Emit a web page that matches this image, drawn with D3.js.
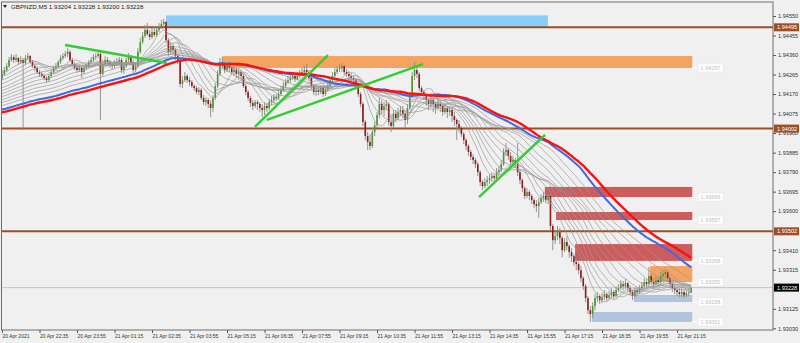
<!DOCTYPE html>
<html>
<head>
<meta charset="utf-8">
<script src="https://cdn.jsdelivr.net/npm/d3@7"></script>
<style>
  body { margin: 0; background: #f0f0f0; }
  svg { display: block; font-family: "Liberation Sans", Arial, sans-serif; }
</style>
</head>
<body>
<svg width="800" height="343"></svg>
<script>
const titleText = "GBPNZD,M5  1.93204 1.93228 1.93200 1.93228";

// M5 bars, open = previous close; each row is [high, low, close]
const firstOpen = 1.94248;
const candles = [
  [1.94287,1.94238,1.94268],[1.94302,1.94258,1.94287],[1.94321,1.94277,1.94306],[1.94350,1.94297,1.94336],
  [1.94365,1.94326,1.94350],[1.94360,1.94321,1.94336],[1.94365,1.94326,1.94346],[1.94350,1.94311,1.94326],
  [1.94355,1.94316,1.94336],[1.94346,1.93995,1.94321],[1.94360,1.94311,1.94346],[1.94370,1.94336,1.94355],
  [1.94360,1.94316,1.94326],[1.94336,1.94297,1.94306],[1.94321,1.94282,1.94297],[1.94306,1.94268,1.94277],
  [1.94287,1.94253,1.94268],[1.94277,1.94248,1.94258],[1.94268,1.94238,1.94248],[1.94258,1.94224,1.94238],
  [1.94268,1.94229,1.94258],[1.94287,1.94248,1.94277],[1.94306,1.94268,1.94297],[1.94321,1.94287,1.94306],
  [1.94336,1.94297,1.94326],[1.94360,1.94316,1.94346],[1.94370,1.94336,1.94355],[1.94380,1.94346,1.94365],
  [1.94394,1.94350,1.94375],[1.94385,1.94326,1.94336],[1.94346,1.94306,1.94316],[1.94326,1.94287,1.94297],
  [1.94306,1.94272,1.94287],[1.94311,1.94277,1.94297],[1.94302,1.94248,1.94277],[1.94306,1.94268,1.94297],
  [1.94321,1.94287,1.94306],[1.94336,1.94297,1.94326],[1.94350,1.94316,1.94336],[1.94365,1.94326,1.94350],
  [1.94370,1.94336,1.94355],[1.94385,1.94346,1.94365],[1.94385,1.94044,1.94268],[1.94336,1.94258,1.94316],
  [1.94355,1.94306,1.94336],[1.94350,1.94311,1.94326],[1.94336,1.94297,1.94316],[1.94326,1.94287,1.94306],
  [1.94336,1.94297,1.94321],[1.94346,1.94306,1.94326],[1.94350,1.94311,1.94336],[1.94346,1.94272,1.94287],
  [1.94321,1.94268,1.94306],[1.94346,1.94297,1.94336],[1.94370,1.94326,1.94355],[1.94360,1.94311,1.94326],
  [1.94336,1.94268,1.94287],[1.94326,1.94277,1.94306],[1.94394,1.94297,1.94375],[1.94443,1.94365,1.94423],
  [1.94472,1.94414,1.94453],[1.94506,1.94443,1.94482],[1.94516,1.94453,1.94462],[1.94482,1.94433,1.94448],
  [1.94492,1.94438,1.94472],[1.94501,1.94448,1.94458],[1.94501,1.94448,1.94482],[1.94516,1.94472,1.94496],
  [1.94531,1.94487,1.94511],[1.94536,1.94492,1.94521],[1.94526,1.94418,1.94433],[1.94443,1.94355,1.94375],
  [1.94423,1.94360,1.94404],[1.94414,1.94365,1.94385],[1.94394,1.94336,1.94355],[1.94365,1.94316,1.94336],
  [1.94346,1.94204,1.94219],[1.94258,1.94199,1.94238],[1.94277,1.94229,1.94258],[1.94268,1.94224,1.94238],
  [1.94253,1.94209,1.94229],[1.94238,1.94199,1.94209],[1.94219,1.94185,1.94199],[1.94209,1.94170,1.94180],
  [1.94204,1.94165,1.94190],[1.94199,1.94141,1.94151],[1.94165,1.94117,1.94131],[1.94156,1.94112,1.94141],
  [1.94151,1.94102,1.94122],[1.94141,1.94058,1.94102],[1.94165,1.94083,1.94151],[1.94224,1.94141,1.94209],
  [1.94287,1.94199,1.94268],[1.94346,1.94258,1.94326],[1.94350,1.94297,1.94316],[1.94326,1.94272,1.94287],
  [1.94321,1.94277,1.94306],[1.94326,1.94277,1.94297],[1.94306,1.94263,1.94277],[1.94306,1.94258,1.94287],
  [1.94297,1.94248,1.94268],[1.94292,1.94238,1.94277],[1.94287,1.94238,1.94258],[1.94268,1.94199,1.94209],
  [1.94219,1.94165,1.94180],[1.94190,1.94136,1.94151],[1.94161,1.94107,1.94127],[1.94141,1.94092,1.94112],
  [1.94141,1.94102,1.94131],[1.94141,1.94092,1.94122],[1.94131,1.94083,1.94102],[1.94122,1.94058,1.94092],
  [1.94131,1.94068,1.94112],[1.94127,1.94083,1.94102],[1.94146,1.94092,1.94131],[1.94161,1.94117,1.94141],
  [1.94170,1.94127,1.94156],[1.94170,1.94136,1.94151],[1.94190,1.94141,1.94170],[1.94209,1.94161,1.94190],
  [1.94229,1.94180,1.94209],[1.94243,1.94199,1.94229],[1.94258,1.94219,1.94238],[1.94268,1.94224,1.94248],
  [1.94277,1.94238,1.94258],[1.94272,1.94229,1.94243],[1.94277,1.94238,1.94258],[1.94287,1.94248,1.94268],
  [1.94297,1.94258,1.94277],[1.94306,1.94263,1.94287],[1.94316,1.94268,1.94277],[1.94287,1.94233,1.94248],
  [1.94258,1.94194,1.94209],[1.94219,1.94165,1.94180],[1.94209,1.94161,1.94190],[1.94204,1.94165,1.94180],
  [1.94214,1.94170,1.94199],[1.94209,1.94156,1.94170],[1.94209,1.94161,1.94190],[1.94224,1.94180,1.94209],
  [1.94253,1.94199,1.94238],[1.94277,1.94229,1.94258],[1.94297,1.94248,1.94277],[1.94306,1.94268,1.94292],
  [1.94316,1.94277,1.94297],[1.94321,1.94277,1.94306],[1.94311,1.94263,1.94277],[1.94292,1.94253,1.94268],
  [1.94282,1.94238,1.94258],[1.94272,1.94229,1.94248],[1.94263,1.94219,1.94238],[1.94248,1.94194,1.94209],
  [1.94219,1.94156,1.94170],[1.94180,1.94107,1.94122],[1.94131,1.94015,1.94034],[1.94044,1.93946,1.93966],
  [1.93985,1.93898,1.93937],[1.93975,1.93898,1.93917],[1.94005,1.93907,1.93985],[1.94034,1.93966,1.94019],
  [1.94083,1.94005,1.94068],[1.94151,1.94053,1.94122],[1.94141,1.94073,1.94092],[1.94131,1.94063,1.94112],
  [1.94141,1.94092,1.94122],[1.94131,1.94015,1.94034],[1.94063,1.93985,1.94015],[1.94092,1.94005,1.94073],
  [1.94092,1.94034,1.94053],[1.94102,1.94044,1.94083],[1.94112,1.94063,1.94092],[1.94112,1.94053,1.94073],
  [1.94092,1.94005,1.94044],[1.94122,1.94024,1.94102],[1.94180,1.94092,1.94161],[1.94277,1.94151,1.94258],
  [1.94326,1.94238,1.94287],[1.94306,1.94248,1.94268],[1.94277,1.94185,1.94199],[1.94209,1.94161,1.94180],
  [1.94190,1.94141,1.94161],[1.94170,1.94112,1.94141],[1.94151,1.94092,1.94122],[1.94161,1.94102,1.94141],
  [1.94151,1.94083,1.94122],[1.94131,1.94073,1.94102],[1.94141,1.94092,1.94122],[1.94136,1.94083,1.94112],
  [1.94122,1.94063,1.94083],[1.94122,1.94073,1.94102],[1.94112,1.94053,1.94083],[1.94112,1.94063,1.94092],
  [1.94102,1.94034,1.94063],[1.94083,1.94015,1.94044],[1.94053,1.93946,1.94024],[1.94044,1.93985,1.94005],
  [1.94015,1.93961,1.93975],[1.93985,1.93927,1.93946],[1.93956,1.93898,1.93917],[1.93927,1.93869,1.93888],
  [1.93898,1.93849,1.93864],[1.93878,1.93829,1.93849],[1.93859,1.93810,1.93829],[1.93839,1.93771,1.93790],
  [1.93800,1.93722,1.93742],[1.93751,1.93703,1.93722],[1.93761,1.93712,1.93742],[1.93771,1.93722,1.93751],
  [1.93780,1.93732,1.93761],[1.93790,1.93742,1.93771],[1.93785,1.93746,1.93761],[1.93810,1.93751,1.93790],
  [1.93820,1.93771,1.93800],[1.93849,1.93790,1.93829],[1.93907,1.93820,1.93888],[1.93932,1.93869,1.93898],
  [1.93907,1.93849,1.93869],[1.93888,1.93825,1.93839],[1.93869,1.93820,1.93849],[1.93859,1.93810,1.93829],
  [1.93932,1.93771,1.93790],[1.93800,1.93732,1.93751],[1.93761,1.93693,1.93712],[1.93722,1.93659,1.93674],
  [1.93712,1.93664,1.93693],[1.93703,1.93654,1.93674],[1.93683,1.93634,1.93654],[1.93664,1.93615,1.93634],
  [1.93654,1.93596,1.93625],[1.93664,1.93567,1.93644],[1.93683,1.93634,1.93664],[1.93693,1.93644,1.93674],
  [1.93683,1.93639,1.93654],[1.93693,1.93634,1.93674],[1.93683,1.93508,1.93528],[1.93537,1.93410,1.93459],
  [1.93508,1.93440,1.93479],[1.93528,1.93459,1.93498],[1.93518,1.93440,1.93469],[1.93479,1.93376,1.93410],
  [1.93469,1.93401,1.93450],[1.93479,1.93410,1.93430],[1.93440,1.93372,1.93401],[1.93420,1.93352,1.93381],
  [1.93391,1.93333,1.93352],[1.93372,1.93313,1.93343],[1.93352,1.93294,1.93313],[1.93333,1.93255,1.93274],
  [1.93284,1.93216,1.93235],[1.93245,1.93157,1.93177],[1.93187,1.93099,1.93118],[1.93138,1.93060,1.93099],
  [1.93157,1.93079,1.93138],[1.93196,1.93118,1.93177],[1.93206,1.93157,1.93187],[1.93196,1.93148,1.93167],
  [1.93201,1.93153,1.93182],[1.93216,1.93167,1.93196],[1.93206,1.93162,1.93177],[1.93211,1.93167,1.93191],
  [1.93226,1.93177,1.93206],[1.93216,1.93172,1.93187],[1.93235,1.93177,1.93216],[1.93245,1.93206,1.93226],
  [1.93264,1.93216,1.93245],[1.93260,1.93216,1.93235],[1.93269,1.93221,1.93250],[1.93255,1.93211,1.93226],
  [1.93240,1.93191,1.93206],[1.93216,1.93167,1.93187],[1.93230,1.93177,1.93216],[1.93230,1.93187,1.93206],
  [1.93240,1.93196,1.93226],[1.93255,1.93206,1.93235],[1.93274,1.93221,1.93255],[1.93269,1.93226,1.93245],
  [1.93328,1.93235,1.93284],[1.93294,1.93240,1.93255],[1.93274,1.93226,1.93245],[1.93284,1.93235,1.93264],
  [1.93279,1.93235,1.93255],[1.93304,1.93245,1.93284],[1.93313,1.93264,1.93294],[1.93318,1.93274,1.93304],
  [1.93313,1.93255,1.93274],[1.93284,1.93226,1.93245],[1.93255,1.93206,1.93226],[1.93240,1.93196,1.93216],
  [1.93230,1.93187,1.93206],[1.93226,1.93182,1.93196],[1.93226,1.93182,1.93206],[1.93216,1.93177,1.93191],
  [1.93216,1.93182,1.93201],[1.93226,1.93187,1.93204],[1.93228,1.93200,1.93228]
];

const timeLabels = ["20 Apr 2021","20 Apr 22:35","20 Apr 23:55","21 Apr 01:15","21 Apr 02:35","21 Apr 03:55",
  "21 Apr 05:15","21 Apr 06:35","21 Apr 07:55","21 Apr 09:15","21 Apr 10:35","21 Apr 11:55","21 Apr 13:15",
  "21 Apr 14:35","21 Apr 15:55","21 Apr 17:15","21 Apr 18:35","21 Apr 19:55","21 Apr 21:15"];
const timeLabelBars = [0,16,32,48,64,80,96,112,128,144,160,176,192,208,224,240,256,272,288];

const priceTicks = [1.94550,1.94455,1.94360,1.94265,1.94170,1.94075,1.93980,1.93885,1.93790,
  1.93695,1.93600,1.93410,1.93315,1.93125,1.93030];

const levelPrices = [1.94495, 1.94002, 1.93502];
const lastPrice = 1.93228;

// ribbon of simple moving averages on close; the window before the first
// visible bar is held at the value each line shows at the left edge
const ribbonPeriods = [9, 13, 17, 21, 26, 31, 36, 42, 48, 55, 62];
const ribbonStart = [1.94277,1.94258,1.94238,1.94219,1.94199,1.94185,1.94170,1.94156,1.94141,1.94127,1.94112];
const bluePeriod = 73, blueStart = 1.94092;
const redPeriod = 80, redStart = 1.94078;

// rectangles (bar index from/to, price high/low)
const zoneFrom = [70, 94, 231.6, 236.4, 244.5, 276.5, 269.6, 251.7];
const zoneTo   = [232.9, 294.5, 294.5, 294.5, 294.5, 294.5, 294.5, 294.5];
const zoneHigh = [1.94553, 1.94355, 1.93718, 1.93596, 1.93440, 1.93333, 1.93192, 1.93109];
const zoneLow  = [1.94495, 1.94297, 1.93669, 1.93557, 1.93358, 1.93255, 1.93158, 1.93061];
const zoneKind = ["sky", "sand", "red", "red", "red", "sand", "steel", "steel"];

// trend lines (bar, price) -> (bar, price)
const trendBarA = [26.9, 107.9, 113, 203.5];
const trendPriceA = [1.94409, 1.94010, 1.94044, 1.93669];
const trendBarB = [70.4, 139.1, 179.6, 231.7];
const trendPriceB = [1.94321, 1.94360, 1.94316, 1.93971];

const plotLeft = 1.5, plotRight = 773, plotTop = 2, plotBottom = 330;

const svg = d3.select("svg");

const x = d3.scaleLinear().domain([0, 294]).range([2, 691.1]);
const y = d3.scaleLinear().domain([1.93030, 1.94550]).range([328.3, 16]);

const zoneFill = { sky: "#87cefa", sand: "#f4a460", red: "#cd5c5c", steel: "#b0c4de" };

svg.append("rect").attr("width", 800).attr("height", 343).attr("fill", "#f0f0f0");

const plot = svg.append("g");
plot.append("clipPath").attr("id", "clip")
  .append("rect").attr("x", plotLeft).attr("y", plotTop)
  .attr("width", plotRight - plotLeft).attr("height", plotBottom - plotTop);
const inner = plot.append("g").attr("clip-path", "url(#clip)");

// zones
inner.selectAll(".zone")
  .data(zoneFrom.map((d, i) => i))
  .enter().append("rect")
  .attr("x", i => x(zoneFrom[i]))
  .attr("y", i => y(zoneHigh[i]))
  .attr("width", i => x(zoneTo[i]) - x(zoneFrom[i]))
  .attr("height", i => y(zoneLow[i]) - y(zoneHigh[i]))
  .attr("fill", i => zoneFill[zoneKind[i]]);

// level lines
inner.selectAll(".level")
  .data(levelPrices)
  .enter().append("line")
  .attr("x1", plotLeft).attr("x2", plotRight)
  .attr("y1", d => y(d)).attr("y2", d => y(d))
  .attr("stroke", "#9c4f25").attr("stroke-width", 2);

inner.append("line")
  .attr("x1", plotLeft).attr("x2", plotRight)
  .attr("y1", y(lastPrice)).attr("y2", y(lastPrice))
  .attr("stroke", "#c4c4d0").attr("stroke-width", 1);

// candles
const bars = candles.map((d, i) => ({
  i: i, o: i === 0 ? firstOpen : candles[i - 1][2], h: d[0], l: d[1], c: d[2]
}));

inner.selectAll(".wick")
  .data(bars)
  .enter().append("line")
  .attr("x1", d => x(d.i)).attr("x2", d => x(d.i))
  .attr("y1", d => y(d.h)).attr("y2", d => y(d.l))
  .attr("stroke", "#8a8a8a").attr("stroke-width", 0.9);

inner.selectAll(".body")
  .data(bars)
  .enter().append("rect")
  .attr("x", d => x(d.i) - 0.8)
  .attr("width", 1.6)
  .attr("y", d => y(Math.max(d.o, d.c)))
  .attr("height", d => Math.max(0.8, Math.abs(y(d.o) - y(d.c))))
  .attr("fill", d => d.c >= d.o ? "#4f9530" : "#8e1b1b");

// moving averages
function sma(period, start) {
  const win = new Array(period).fill(start);
  let sum = start * period;
  return bars.map((d, i) => {
    const k = i % period;
    sum += d.c - win[k];
    win[k] = d.c;
    return sum / period;
  });
}
const line = d3.line().x((d, i) => x(i)).y(d => y(d)).curve(d3.curveMonotoneX);

ribbonPeriods.forEach((p, k) => {
  inner.append("path")
    .attr("d", line(sma(p, ribbonStart[k])))
    .attr("fill", "none").attr("stroke", "#9a9a9a").attr("stroke-width", 0.7);
});
inner.append("path").attr("d", line(sma(bluePeriod, blueStart)))
  .attr("fill", "none").attr("stroke", "#4169e1").attr("stroke-width", 2);
inner.append("path").attr("d", line(sma(redPeriod, redStart)))
  .attr("fill", "none").attr("stroke", "#ff1010").attr("stroke-width", 2.4);

// trend lines
inner.selectAll(".trend")
  .data(trendBarA.map((d, i) => i))
  .enter().append("line")
  .attr("x1", i => x(trendBarA[i])).attr("y1", i => y(trendPriceA[i]))
  .attr("x2", i => x(trendBarB[i])).attr("y2", i => y(trendPriceB[i]))
  .attr("stroke", "#32cd32").attr("stroke-width", 2.4);

// zone price labels
const labelled = zoneFrom.map((d, i) => i).filter(i => zoneKind[i] !== "sky");
const fmt = d3.format(".5f");
labelled.forEach(i => {
  const ly = y(zoneLow[i]);
  plot.append("line").attr("x1", x(zoneTo[i])).attr("x2", 698).attr("y1", ly).attr("y2", ly)
    .attr("stroke", "#ffffff").attr("stroke-width", 1);
  plot.append("rect").attr("x", 698).attr("y", ly - 4).attr("width", 25).attr("height", 8)
    .attr("fill", "#ffffff").attr("stroke", "#e4e4e4").attr("stroke-width", 0.5);
  plot.append("text").attr("x", 710.5).attr("y", ly + 2).attr("text-anchor", "middle")
    .attr("font-size", 5.5).attr("fill", "#c0c0c0").text(fmt(zoneLow[i]));
});

// frame
svg.append("rect").attr("x", plotLeft).attr("y", plotTop)
  .attr("width", plotRight - plotLeft).attr("height", plotBottom - plotTop)
  .attr("fill", "none").attr("stroke", "#6e6e6e").attr("stroke-width", 1);

// price axis
const yAxis = svg.append("g")
  .attr("transform", `translate(${plotRight},0)`)
  .call(d3.axisRight(y).tickValues(priceTicks).tickFormat(fmt).tickSize(3).tickPadding(2));
yAxis.select(".domain").remove();
yAxis.selectAll("line").attr("stroke", "#555");
yAxis.selectAll("text").attr("font-size", 5.6).attr("fill", "#333")
  .attr("font-family", "Liberation Sans, Arial, sans-serif");

// level tags on the price axis
levelPrices.forEach(p => {
  svg.append("rect").attr("x", 774).attr("y", y(p) - 4).attr("width", 25).attr("height", 8).attr("fill", "#9c4f25");
  svg.append("text").attr("x", 777).attr("y", y(p) + 2).attr("font-size", 5.6).attr("fill", "#fff").text(fmt(p));
});
svg.append("rect").attr("x", 774).attr("y", y(lastPrice) - 4).attr("width", 25).attr("height", 8).attr("fill", "#000");
svg.append("text").attr("x", 777).attr("y", y(lastPrice) + 2).attr("font-size", 5.6).attr("fill", "#fff").text(fmt(lastPrice));

// time axis
const xAxis = svg.append("g")
  .attr("transform", `translate(0,${plotBottom})`)
  .call(d3.axisBottom(x).tickValues(timeLabelBars).tickFormat((d, i) => timeLabels[i]).tickSize(3).tickPadding(1));
xAxis.select(".domain").remove();
xAxis.selectAll("line").attr("stroke", "#555");
xAxis.selectAll("text").attr("text-anchor", "start").attr("dx", 0).attr("font-size", 5)
  .attr("fill", "#333").attr("font-family", "Liberation Sans, Arial, sans-serif");

// title
svg.append("path").attr("d", "M3,5 L7,5 L5,8 Z").attr("fill", "#222");
svg.append("text").attr("x", 11).attr("y", 8.5).attr("font-size", 6.2).attr("fill", "#222").text(titleText);
</script>
</body>
</html>
